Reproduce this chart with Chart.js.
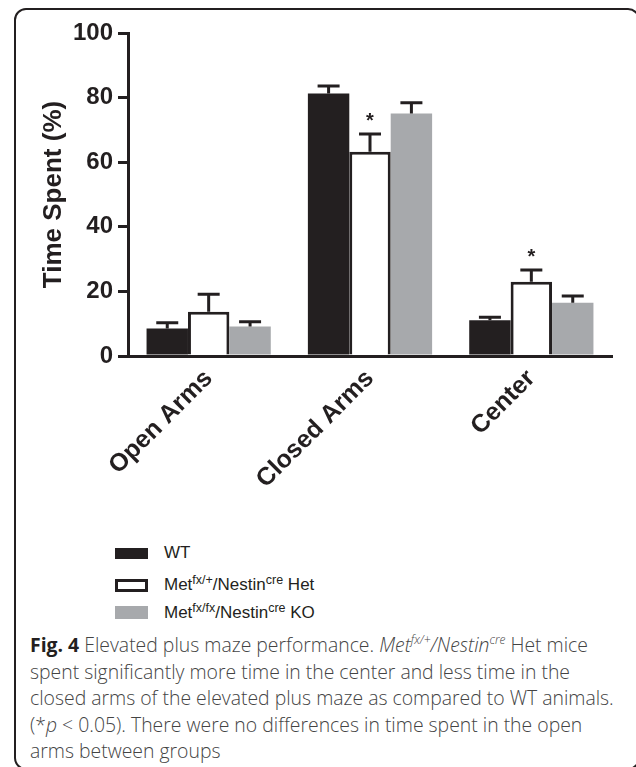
<!DOCTYPE html>
<html>
<head>
<meta charset="utf-8">
<script src="https://cdn.jsdelivr.net/npm/chart.js@4"></script>
<style>
  body { margin: 0; background: #fff; width: 636px; height: 767px; overflow: hidden; position: relative; }
  #frame {
    position: absolute; left: 14px; top: 8px; width: 626px; height: 762px;
    box-sizing: border-box; border: 2px solid #231f20; border-radius: 12px;
  }
  #wrap { position: absolute; left: 0; top: 0; width: 636px; height: 520px; }
  .legend { position: absolute; left: 115px; font-family: "Liberation Sans", Arial, sans-serif; font-size: 17px; color: #231f20; }
  .legend .sw { position: absolute; left: 0; width: 33px; box-sizing: border-box; }
  .legend .txt { position: absolute; left: 49px; white-space: nowrap; line-height: 16px; }
  .legend sup { font-size: 12.5px; vertical-align: 6px; line-height: 0; }
  #caption {
    position: absolute; left: 30px; top: 632px; width: 600px;
    font-family: "Open Sans", sans-serif; font-size: 19.4px; font-weight: 300;
    line-height: 26.5px; color: #444; white-space: nowrap;
  }
  #caption b { color: #231f20; font-weight: bold; }
  #caption sup { font-size: 12px; vertical-align: 8px; line-height: 0; }
</style>
</head>
<body>
<div id="frame"></div>
<div id="wrap"><canvas id="epmChart" width="636" height="520"></canvas></div>

<div class="legend" style="top:548px">
  <div class="sw" style="top:0; height:11px; background:#231f20"></div>
  <div class="txt" style="top:-3px">WT</div>
</div>
<div class="legend" style="top:579px">
  <div class="sw" style="top:0; height:13px; background:#fff; border:3.5px solid #231f20"></div>
  <div class="txt" style="top:-2px">Met<sup>fx/+</sup>/Nestin<sup>cre</sup> Het</div>
</div>
<div class="legend" style="top:606px">
  <div class="sw" style="top:0; height:13px; background:#a7a9ac"></div>
  <div class="txt" style="top:-1px">Met<sup>fx/fx</sup>/Nestin<sup>cre</sup> KO</div>
</div>

<div id="caption">
  <b>Fig. 4</b> Elevated plus maze performance. <i>Met<sup>fx/+</sup>/Nestin<sup>cre</sup></i> Het mice<br>
  spent significantly more time in the center and less time in the<br>
  closed arms of the elevated plus maze as compared to WT animals.<br>
  (*<i>p</i> &lt; 0.05). There were no differences in time spent in the open<br>
  arms between groups
</div>

<script>
const categories = ["Open Arms", "Closed Arms", "Center"];
const yTicks = [0, 20, 40, 60, 80, 100];

const wtMean = [8.5, 81.3, 11.1];
const wtErr = [1.8, 2.3, 0.9];
const hetMean = [13.7, 63.2, 23.0];
const hetErr = [5.4, 5.5, 3.6];
const koMean = [9.1, 75.1, 16.5];
const koErr = [1.5, 3.3, 2.1];
const hetSignificant = [false, true, true];

const ink = "#231f20";

// upward SEM bars + asterisks
const errorBars = {
    id: "errorBars",
    afterDatasetsDraw(chart) {
        const ctx = chart.ctx;
        const y = chart.scales.y;
        ctx.save();
        ctx.strokeStyle = ink;
        ctx.lineWidth = 3;
        chart.data.datasets.forEach((ds, i) => {
            const meta = chart.getDatasetMeta(i);
            meta.data.forEach((bar, j) => {
                const top = y.getPixelForValue(ds.data[j] + ds.errors[j]);
                ctx.beginPath();
                ctx.moveTo(bar.x, bar.y);
                ctx.lineTo(bar.x, top);
                ctx.moveTo(bar.x - 11, top);
                ctx.lineTo(bar.x + 11, top);
                ctx.stroke();
                if (ds.stars && ds.stars[j]) {
                    ctx.fillStyle = ink;
                    ctx.font = "bold 20px 'Liberation Sans', Arial";
                    ctx.textAlign = "center";
                    ctx.textBaseline = "alphabetic";
                    ctx.fillText("*", bar.x, top - 18 + 11);
                }
            });
        });
        ctx.restore();
    }
};

new Chart(document.getElementById("epmChart"), {
    type: "bar",
    data: {
        labels: categories,
        datasets: [
            { label: "WT", data: wtMean, errors: wtErr, backgroundColor: ink, borderWidth: 0 },
            { label: "Het", data: hetMean, errors: hetErr, stars: hetSignificant, backgroundColor: "#ffffff", borderColor: ink, borderWidth: 3 },
            { label: "KO", data: koMean, errors: koErr, backgroundColor: "#a7a9ac", borderWidth: 0 }
        ]
    },
    options: {
        responsive: false,
        animation: false,
        layout: { padding: { top: 33, right: 24, left: 0, bottom: 0 } },
        datasets: { bar: { barPercentage: 1, categoryPercentage: 0.77 } },
        plugins: { legend: { display: false }, tooltip: { enabled: false } },
        scales: {
            x: {
                afterFit: (scale) => { scale.height = 164; },
                grid: { display: false, drawTicks: false },
                border: { display: true, width: 3, color: ink },
                ticks: {
                    color: ink,
                    font: { family: "'Liberation Sans', Arial", size: 25, weight: "bold" },
                    maxRotation: 45,
                    minRotation: 45,
                    padding: 8
                }
            },
            y: {
                min: 0,
                max: 100,
                afterFit: (scale) => { scale.width = 128; },
                afterBuildTicks: (scale) => { scale.ticks = yTicks.map(v => ({ value: v })); },
                grid: { drawOnChartArea: false, drawTicks: true, tickLength: 10, lineWidth: 3, color: ink },
                border: { display: true, width: 3, color: ink },
                ticks: {
                    color: ink,
                    padding: 5,
                    font: { family: "'Liberation Sans', Arial", size: 24, weight: "bold" }
                },
                title: {
                    display: true,
                    text: "Time Spent (%)",
                    color: ink,
                    font: { family: "'Liberation Sans', Arial", size: 26, weight: "bold" },
                    padding: { top: 38, bottom: 0 }
                }
            }
        }
    },
    plugins: [errorBars]
});
</script>
</body>
</html>
